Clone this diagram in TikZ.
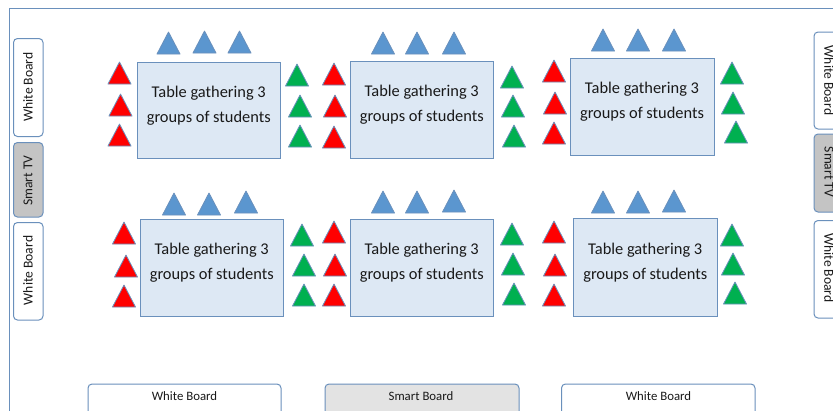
\documentclass[tikz,border=0pt]{standalone}
\usepackage{fontspec}
\setmainfont{Carlito}
\definecolor{frameblue}{HTML}{6A90BC}
\definecolor{tablefill}{HTML}{DDE8F4}
\definecolor{triblue}{HTML}{5B96CF}
\definecolor{trired}{HTML}{FF0000}
\definecolor{trigreen}{HTML}{00B050}
\definecolor{tvgrey}{HTML}{C4C4C4}
\definecolor{sbgrey}{HTML}{E3E3E3}
\tikzset{
  x=1pt,y=-1pt,
  tablebox/.style={draw=frameblue,fill=tablefill,line width=1pt},
  tabletext/.style={align=center,font=\fontsize{16.4}{25}\selectfont,text=black!90,inner sep=0pt},
  board/.style={draw=frameblue,line width=1pt,rounded corners=4pt,fill=white},
  boardtext/.style={font=\fontsize{13.6}{15}\selectfont,text=black!90,inner sep=0pt},
  hboardtext/.style={font=\fontsize{12.8}{15}\selectfont,text=black!90,inner sep=0pt},
  tri/.style={draw=frameblue,line width=0.8pt,line join=round}
}
\newcommand{\triset}[2]{%
  \foreach \cx/\ay in {#2} {\filldraw[tri,fill=#1] (\cx-11.5,\ay+22) -- (\cx,\ay) -- (\cx+11.5,\ay+22) -- cycle;}}
\newcommand{\tablenode}[5]{%
  \draw[tablebox] (#2,#3) rectangle (#4,#5);
  \node[tabletext] (#1) at ({(#2+#4)/2},{#3+44}) {Table gathering 3\\groups of students};}
\begin{document}
\begin{tikzpicture}
\useasboundingbox (0,0) rectangle (833,410);
\clip (0,0) rectangle (833,410);
\fill[white] (0,0) rectangle (833,410);
\draw[frameblue,line width=1pt] (840,8.5) -- (9.5,8.5) -- (9.5,420);

\tablenode{ta}{137}{62}{280.5}{158.5}
\tablenode{tb}{350}{61}{493.5}{158.5}
\tablenode{tc}{570}{58}{714}{155.5}
\tablenode{td}{140}{219}{283.5}{316.5}
\tablenode{te}{350}{219}{493.5}{316.5}
\tablenode{tf}{573.5}{218.5}{717}{316.5}

\triset{triblue}{168.5/32,204.5/31,239.5/31, 383/32,417/32,454/32, 603/29,638/29,674/29,
  174/193,209/193,246/191, 383/191,417/191,454/190, 603/191,638/191,674/190}
\triset{trired}{119.5/62,120.5/94,119.5/124, 334/63,335/95,334/126, 554/60,555/92,554/122,
  124/222,126/255,124/285, 334/221,335/254,334/284, 554/221,555/254,554/284}
\triset{trigreen}{297/64,300/95,300/125, 512/66,513/95,514/125, 732/62,733/92,736/121,
  302/224,304/254,304/284, 512/223,513/253,514/283, 732/224,733/253,735/282}

% left boards
\draw[board] (13.5,38.5) rectangle (43,136.5);
\node[boardtext,rotate=90] (l1) at (28,87) {White Board};
\draw[board,fill=tvgrey] (13.5,142.5) rectangle (43,217);
\node[boardtext,rotate=90] (l2) at (28,180.5) {Smart TV};
\draw[board] (13.5,222.5) rectangle (43,320);
\node[boardtext,rotate=90] (l3) at (28,270.5) {White Board};
% right boards
\draw[board] (814,32) rectangle (850,129);
\node[boardtext,rotate=-90] (r1) at (829,80.5) {White Board};
\draw[board,fill=tvgrey] (814,134) rectangle (850,212);
\node[boardtext,rotate=-90] (r2) at (829,172) {Smart TV};
\draw[board] (814,220.5) rectangle (850,318);
\node[boardtext,rotate=-90] (r3) at (829,268) {White Board};
% bottom boards
\draw[board] (88,384) rectangle (281,425);
\node[hboardtext] (b1) at (184.5,396.5) {White Board};
\draw[board,fill=sbgrey] (325,384) rectangle (519,425);
\node[hboardtext] (b2) at (421,396.5) {Smart Board};
\draw[board] (561.5,384) rectangle (755,425);
\node[hboardtext] (b3) at (658.5,396.5) {White Board};
\end{tikzpicture}
\end{document}
